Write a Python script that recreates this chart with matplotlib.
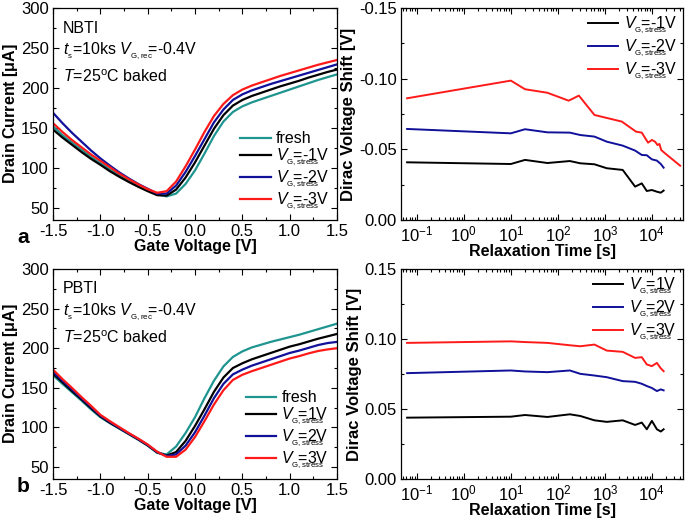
import numpy as np
import matplotlib
matplotlib.use("Agg")
import matplotlib.pyplot as plt
from matplotlib.ticker import MultipleLocator, FormatStrFormatter, LogLocator

plt.rcParams['font.family'] = ['Liberation Sans', 'DejaVu Sans']
plt.rcParams['mathtext.fontset'] = 'custom'
plt.rcParams['mathtext.rm'] = 'Liberation Sans'
plt.rcParams['mathtext.it'] = 'Liberation Sans:italic'
plt.rcParams['mathtext.bf'] = 'Liberation Sans:bold'
plt.rcParams['axes.unicode_minus'] = False

# gate voltage sweep
vg = [-1.5, -1.4, -1.3, -1.2, -1.1, -1.0, -0.9, -0.8, -0.7, -0.6, -0.5, -0.4, -0.3,
      -0.2, -0.1, 0.0, 0.1, 0.2, 0.3, 0.4, 0.5, 0.6, 0.7, 0.8, 0.9, 1.0, 1.1, 1.2,
      1.3, 1.4, 1.5]

# NBTI transfer curves (uA)
nbti_fresh = [152, 141, 132, 123, 114, 106, 98, 91, 84, 78, 72, 67, 64.5,
              68, 80, 97, 118, 140, 158, 170, 177, 182, 186, 190, 194, 198, 202, 206,
              210, 213.5, 217]
nbti_m1 = [148, 138, 129, 120, 111.5, 104, 96, 89, 82.5, 76.5, 71, 66, 65.5,
           73, 88, 107, 128, 149, 166, 178, 185, 190, 194, 198, 202, 205.5, 209, 213,
           216.5, 220, 223]
nbti_m2 = [169, 156, 144, 133, 122, 112, 103, 94.5, 87, 80, 74, 68, 68,
           78, 95, 115, 136, 157, 173, 185, 192, 197, 201, 205, 208.5, 212, 215.5, 219,
           222.5, 226, 229.5]
nbti_m3 = [156, 145, 135, 126, 117, 109, 101, 93, 86, 79.5, 73.5, 69, 71,
           83, 102, 123, 145, 165, 180, 191, 198, 203, 207, 211, 215, 218.5, 222, 225.5,
           229, 232, 235]

# PBTI transfer curves (uA)
pbti_fresh = [166, 155, 144.5, 134, 123, 113, 105.5, 98.5, 91.5, 84.5, 77, 68, 66,
              76, 93, 113, 137, 159, 177, 189, 196, 201, 204.5, 208, 211, 214, 217, 220.5,
              224, 227.5, 231]
pbti_p1 = [168, 157, 146, 135.5, 124.5, 114, 106, 99, 92, 85, 77.5, 68.5, 64.5,
           69, 83, 102, 123, 145, 163, 175, 181, 186, 190, 194, 198, 202, 205, 208.5,
           212, 215, 218]
pbti_p2 = [170, 159, 148, 137, 126, 115, 107, 99.5, 92.5, 85.5, 78, 69, 64,
           66, 77, 94, 115, 137, 155, 167, 173, 178, 182, 186, 190, 194, 197, 200.5,
           204, 206.5, 208]
pbti_p3 = [173, 161, 150, 138.5, 127.5, 116, 108, 100.5, 93, 86, 78.5, 69.5, 63,
           63, 72, 88, 108, 129, 147, 160, 166.5, 171, 175, 179, 183, 187, 190, 193.5,
           196.5, 198.5, 200]

# relaxation times (s)
t_relax = [0.062, 10, 20, 60, 180, 300, 600, 1100, 2400, 4400, 6100, 7800, 10000,
           12800, 15500, 17800]
t_relax_red = [0.062, 10, 20, 60, 170, 280, 600, 2300, 4600, 6100, 8300, 10000,
               11700, 13200, 14500, 15800, 19000, 40000]

# NBTI Dirac voltage shift (V)
shift_n1 = [-0.0408, -0.0396, -0.0425, -0.0403, -0.0417, -0.0401, -0.0394, -0.0366,
            -0.0354, -0.0236, -0.0259, -0.0205, -0.0212, -0.0200, -0.0193, -0.0208]
shift_n2 = [-0.0644, -0.0613, -0.0642, -0.0620, -0.0618, -0.0601, -0.0590, -0.0554,
            -0.0526, -0.0491, -0.0460, -0.0458, -0.0429, -0.0420, -0.0396, -0.0370]
shift_n3 = [-0.0861, -0.0986, -0.0925, -0.0900, -0.0844, -0.0880, -0.0743, -0.0696,
            -0.0625, -0.0618, -0.0547, -0.0566, -0.0554, -0.0530, -0.0538, -0.0495,
            -0.0472, -0.0384]

# PBTI Dirac voltage shift (V)
shift_p1 = [0.0438, 0.0445, 0.0457, 0.0443, 0.0462, 0.0450, 0.0419, 0.0408,
            0.0419, 0.0386, 0.0403, 0.0355, 0.0415, 0.0355, 0.0339, 0.0355]
shift_p2 = [0.0756, 0.0775, 0.0768, 0.0763, 0.0775, 0.0751, 0.0739, 0.0727,
            0.0699, 0.0694, 0.0680, 0.0664, 0.0650, 0.0628, 0.0640, 0.0633]
shift_p3 = [0.0972, 0.0983, 0.0978, 0.0972, 0.0955, 0.0948, 0.0960, 0.0917,
            0.0908, 0.0865, 0.0870, 0.0818, 0.0806, 0.0829, 0.0790, 0.0770]

teal = '#1f9590'
navy = '#10109a'
red = '#ff1a1a'
# V with a small, low subscript; the '=' is pulled back over the subscript
sub = r'$V_{_{\mathregular{G,stress}}}\hspace{-1.9}$'
info = r'$t_{_{\mathregular{s}}}$=10ks $V_{_{\mathregular{G,rec}}}\hspace{-0.3}$=-0.4V'
temp = r'$T$=25$^{\mathregular{o}}$C baked'


def style_ticks(ax):
    ax.tick_params(which='both', direction='in', top=True, right=True, labelsize=12)
    ax.tick_params(which='major', length=4, width=0.8, pad=3)
    ax.tick_params(which='minor', length=2, width=0.8)
    for s in ax.spines.values():
        s.set_linewidth(0.9)


def style_iv(ax):
    ax.set_xlim(-1.5, 1.5)
    ax.set_ylim(35, 300)
    ax.xaxis.set_major_locator(MultipleLocator(0.5))
    ax.xaxis.set_minor_locator(MultipleLocator(0.25))
    ax.yaxis.set_major_locator(MultipleLocator(50))
    ax.yaxis.set_minor_locator(MultipleLocator(25))
    ax.xaxis.set_major_formatter(FormatStrFormatter('%.1f'))
    ax.set_xlabel('Gate Voltage [V]', fontsize=11.5, fontweight='bold', labelpad=0)
    ax.set_ylabel(r'Drain Current [$\mathregular{\mu}$A]', fontsize=11.5,
                  fontweight='bold', labelpad=1)
    style_ticks(ax)


def style_shift(ax):
    ax.set_xscale('log')
    ax.set_xlim(0.046, 4.6e4)
    ax.yaxis.set_major_locator(MultipleLocator(0.05))
    ax.yaxis.set_minor_locator(MultipleLocator(0.025))
    ax.yaxis.set_major_formatter(FormatStrFormatter('%.2f'))
    ax.xaxis.set_major_locator(LogLocator(base=10, numticks=20))
    ax.xaxis.set_minor_locator(LogLocator(base=10, subs=np.arange(2, 10), numticks=20))
    ax.set_xlabel('Relaxation Time [s]', fontsize=11.5, fontweight='bold', labelpad=0)
    ax.set_ylabel('Dirac Voltage Shift [V]', fontsize=12, fontweight='bold', labelpad=2)
    style_ticks(ax)


def add_legend(ax, loc, spacing, pad):
    ax.legend(loc=loc, frameon=False, fontsize=11.5, handlelength=1.9,
              labelspacing=spacing, borderaxespad=pad, handletextpad=0.35)


fig = plt.figure(figsize=(6.85, 5.24), dpi=100)
ax1 = fig.add_axes([0.0774, 0.5802, 0.4146, 0.4046])
ax2 = fig.add_axes([0.5854, 0.5802, 0.4117, 0.4046])
ax3 = fig.add_axes([0.0774, 0.0859, 0.4146, 0.4008])
ax4 = fig.add_axes([0.5854, 0.0859, 0.4117, 0.4008])

lw = 1.6
# NBTI I-V
ax1.plot(vg, nbti_fresh, color=teal, lw=lw, label='fresh')
ax1.plot(vg, nbti_m1, color='black', lw=lw, label=sub + '=-1V')
ax1.plot(vg, nbti_m2, color=navy, lw=lw, label=sub + '=-2V')
ax1.plot(vg, nbti_m3, color=red, lw=lw, label=sub + '=-3V')
style_iv(ax1)
add_legend(ax1, 'lower right', 0.02, 0.1)
ax1.text(0.035, 0.905, 'NBTI', transform=ax1.transAxes, fontsize=11.5, va='center')
ax1.text(0.035, 0.795, info, transform=ax1.transAxes, fontsize=11.5, va='center')
ax1.text(0.035, 0.675, temp, transform=ax1.transAxes, fontsize=11.5, va='center')

# NBTI shift
ax2.plot(t_relax, shift_n1, color='black', lw=1.4, label=sub + '=-1V')
ax2.plot(t_relax, shift_n2, color=navy, lw=1.4, label=sub + '=-2V')
ax2.plot(t_relax_red, shift_n3, color=red, lw=1.4, label=sub + '=-3V')
style_shift(ax2)
ax2.set_ylim(0, -0.15)
add_legend(ax2, 'upper right', 0.1, 0.0)

# PBTI I-V
ax3.plot(vg, pbti_fresh, color=teal, lw=lw, label='fresh')
ax3.plot(vg, pbti_p1, color='black', lw=lw, label=sub + '=1V')
ax3.plot(vg, pbti_p2, color=navy, lw=lw, label=sub + '=2V')
ax3.plot(vg, pbti_p3, color=red, lw=lw, label=sub + '=3V')
style_iv(ax3)
add_legend(ax3, 'lower right', 0.02, 0.1)
ax3.text(0.035, 0.905, 'PBTI', transform=ax3.transAxes, fontsize=11.5, va='center')
ax3.text(0.035, 0.795, info, transform=ax3.transAxes, fontsize=11.5, va='center')
ax3.text(0.035, 0.675, temp, transform=ax3.transAxes, fontsize=11.5, va='center')

# PBTI shift
ax4.plot(t_relax, shift_p1, color='black', lw=1.4, label=sub + '=1V')
ax4.plot(t_relax, shift_p2, color=navy, lw=1.4, label=sub + '=2V')
ax4.plot(t_relax, shift_p3, color=red, lw=1.4, label=sub + '=3V')
style_shift(ax4)
ax4.set_ylim(0, 0.15)
add_legend(ax4, 'upper right', 0.1, 0.0)

fig.text(17 / 685, 1 - 238 / 524, 'a', fontsize=15, fontweight='bold', va='center')
fig.text(17 / 685, 1 - 487 / 524, 'b', fontsize=15, fontweight='bold', va='center')

fig.savefig('out.png', dpi=100)
